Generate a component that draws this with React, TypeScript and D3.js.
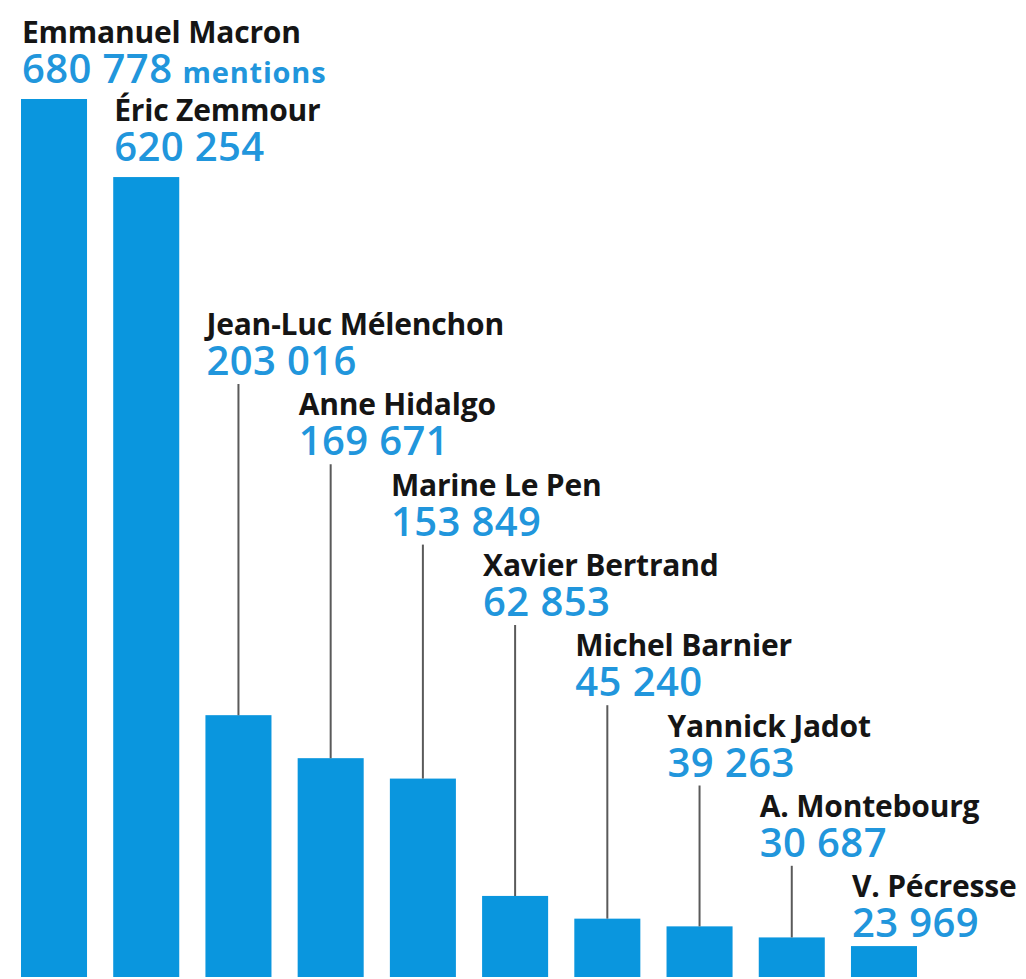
import { useEffect, useRef } from "react";
import * as d3 from "d3";

const candidates = [
  "Emmanuel Macron",
  "Éric Zemmour",
  "Jean-Luc Mélenchon",
  "Anne Hidalgo",
  "Marine Le Pen",
  "Xavier Bertrand",
  "Michel Barnier",
  "Yannick Jadot",
  "A. Montebourg",
  "V. Pécresse",
];
const mentions = [680778, 620254, 203016, 169671, 153849, 62853, 45240, 39263, 30687, 23969];
const valueLabels = [
  "680 778",
  "620 254",
  "203 016",
  "169 671",
  "153 849",
  "62 853",
  "45 240",
  "39 263",
  "30 687",
  "23 969",
];
const unitLabel = "mentions";

type Row = { name: string; value: number; label: string; i: number };

const W = 1026;
const H = 979;
const BAR = "#0a96de";
const BLUE = "#2196dc";
const INK = "#151515";
const FONT = "'Open Sans', 'DejaVu Sans', sans-serif";

export default function App() {
  const ref = useRef<SVGSVGElement>(null);

  useEffect(() => {
    if (!ref.current) return;
    const rows: Row[] = candidates.map((name, i) => ({
      name,
      value: mentions[i],
      label: valueLabels[i],
      i,
    }));

    const svg = d3.select(ref.current);
    svg.selectAll("*").remove();
    svg.attr("width", W).attr("height", H);

    svg.append("rect").attr("width", W).attr("height", H).attr("fill", "#fff");

    const x = d3
      .scaleBand()
      .domain(candidates)
      .range([21, 917])
      .paddingInner(0.284)
      .paddingOuter(0);

    const y = d3
      .scaleLinear()
      .domain([0, d3.max(mentions) ?? 0])
      .range([977, 99]);

    // label block: name baseline, value baseline below it
    const nameY = (d: Row) =>
      d.i < 2 ? y(d.value) - 56 : 335 + (d.i - 2) * 80.3;
    const valueY = (d: Row) => nameY(d) + 40;

    svg
      .append("g")
      .selectAll("rect")
      .data(rows)
      .join("rect")
      .attr("x", (d) => x(d.name) ?? 0)
      .attr("y", (d) => y(d.value))
      .attr("width", x.bandwidth())
      .attr("height", (d) => y(0) - y(d.value))
      .attr("fill", BAR);

    // connector lines from the labels down to the bars
    svg
      .append("g")
      .selectAll("line")
      .data(rows.filter((d) => d.i >= 2 && valueY(d) + 9 < y(d.value) - 2))
      .join("line")
      .attr("x1", (d) => (x(d.name) ?? 0) + x.bandwidth() / 2)
      .attr("x2", (d) => (x(d.name) ?? 0) + x.bandwidth() / 2)
      .attr("y1", (d) => valueY(d) + 9)
      .attr("y2", (d) => y(d.value))
      .attr("stroke", "#5a5a5a")
      .attr("stroke-width", 2);

    const labels = svg
      .append("g")
      .selectAll("g")
      .data(rows)
      .join("g")
      .attr("transform", (d) => `translate(${(x(d.name) ?? 0) + 1},0)`);

    labels
      .append("text")
      .attr("y", nameY)
      .attr("font-family", FONT)
      .attr("font-weight", 700)
      .attr("font-size", 30)
      .attr("letter-spacing", -0.2)
      .attr("fill", INK)
      .text((d) => d.name);

    const val = labels
      .append("text")
      .attr("y", valueY)
      .attr("font-family", FONT)
      .attr("font-weight", 600)
      .attr("font-size", 40)
      .attr("letter-spacing", 0.4)
      .attr("fill", BLUE);

    val.append("tspan").text((d) => d.label);
    val
      .filter((d) => d.i === 0)
      .append("tspan")
      .attr("dx", 10)
      .attr("font-size", 29)
      .attr("font-weight", 700)
      .attr("letter-spacing", 0.8)
      .text(unitLabel);
  }, []);

  return (
    <svg
      ref={ref}
      style={{ position: "absolute", left: 0, top: 0, display: "block" }}
    />
  );
}
